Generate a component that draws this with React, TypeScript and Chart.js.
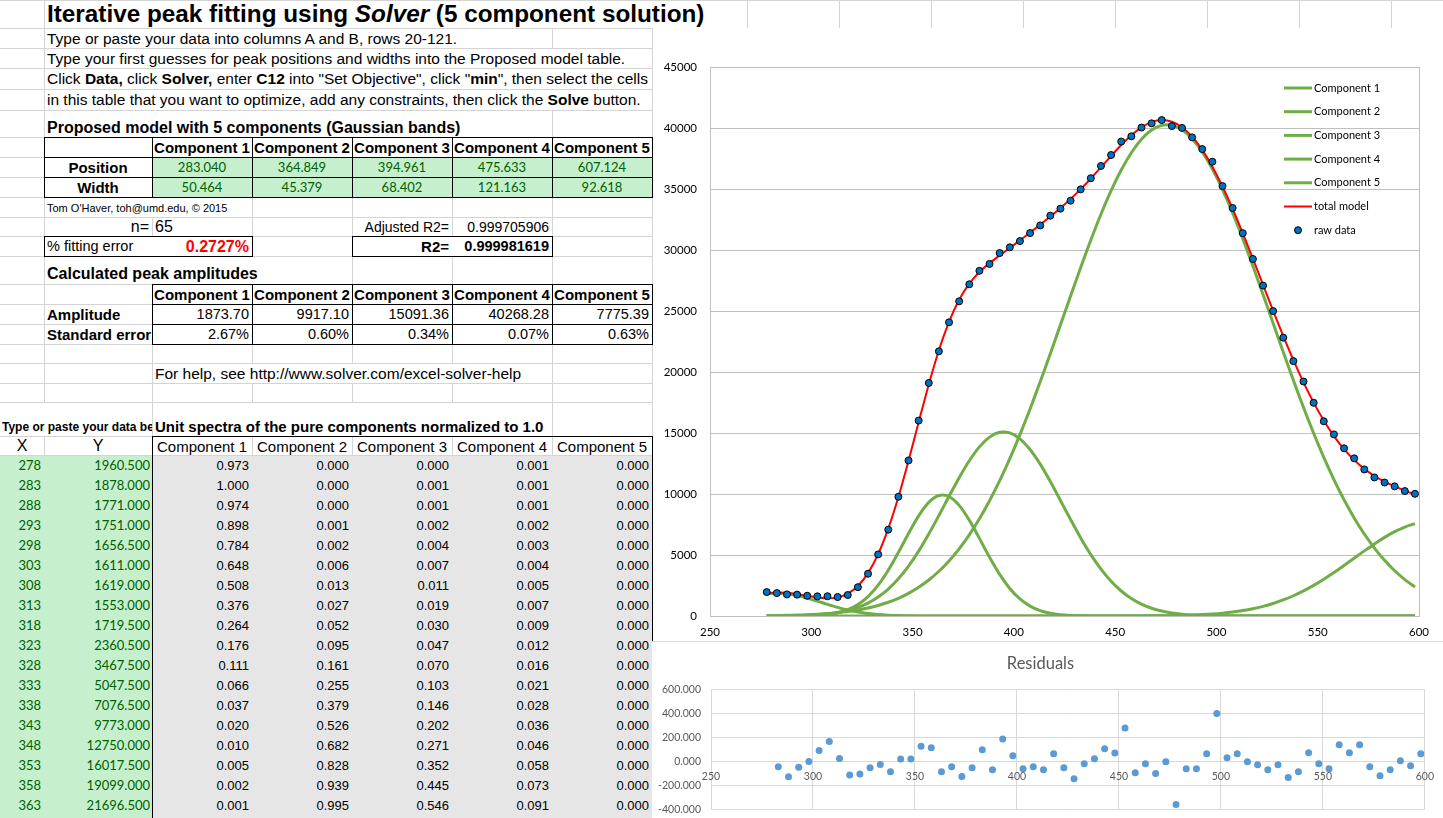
import React, { useEffect, useRef } from "react";
import { Chart, registerables } from "chart.js";

Chart.register(...registerables);

// ---------------- data ----------------
const X_VALUES = [
  278, 283, 288, 293, 298, 303, 308, 313, 318, 323,
  328, 333, 338, 343, 348, 353, 358, 363, 368, 373,
  378, 383, 388, 393, 398, 403, 408, 413, 418, 423,
  428, 433, 438, 443, 448, 453, 458, 463, 468, 473,
  478, 483, 488, 493, 498, 503, 508, 513, 518, 523,
  528, 533, 538, 543, 548, 553, 558, 563, 568, 573,
  578, 583, 588, 593, 598,
];

const RAW_DATA = [
  1960.5, 1878, 1771, 1751, 1656.5, 1611, 1619, 1553, 1719.5, 2360.5,
  3467.5, 5047.5, 7076.5, 9773, 12750, 16017.5, 19099, 21696.5, 24071, 25793,
  27187, 28291, 28859, 29748, 30218, 30732, 31387, 32011, 32810, 33389,
  34043, 34971, 35886, 36888, 37785, 38890, 39319, 40036, 40383, 40648,
  40160, 40007, 39232, 38272, 37235, 35239, 33439, 31382, 29264, 27083,
  24993, 22814, 20893, 19221, 17472, 15961, 14887, 13744, 12921, 12016,
  11360, 10941, 10627, 10243, 10016,
];

const COMPONENT_1 = [
  1823, 1874, 1824, 1682, 1469, 1214, 951, 705, 495, 329,
  207, 124, 70, 37, 19, 9, 4, 2, 1, 0,
  0, 0, 0, 0, 0, 0, 0, 0, 0, 0,
  0, 0, 0, 0, 0, 0, 0, 0, 0, 0,
  0, 0, 0, 0, 0, 0, 0, 0, 0, 0,
  0, 0, 0, 0, 0, 0, 0, 0, 0, 0,
  0, 0, 0, 0, 0,
];

const COMPONENT_2 = [
  0, 1, 3, 9, 24, 58, 128, 266, 516, 938,
  1594, 2531, 3757, 5215, 6767, 8209, 9310, 9872, 9785, 9069,
  7857, 6364, 4819, 3412, 2258, 1398, 809, 437, 221, 104,
  46, 19, 7, 3, 1, 0, 0, 0, 0, 0,
  0, 0, 0, 0, 0, 0, 0, 0, 0, 0,
  0, 0, 0, 0, 0, 0, 0, 0, 0, 0,
  0, 0, 0, 0, 0,
];

const COMPONENT_3 = [
  5, 9, 17, 32, 57, 101, 171, 282, 451, 702,
  1059, 1552, 2207, 3047, 4085, 5317, 6717, 8238, 9810, 11340,
  12726, 13864, 14664, 15057, 15009, 14524, 13645, 12445, 11019, 9471,
  7904, 6402, 5035, 3844, 2849, 2050, 1432, 971, 639, 409,
  254, 153, 89, 51, 28, 15, 8, 4, 2, 1,
  0, 0, 0, 0, 0, 0, 0, 0, 0, 0,
  0, 0, 0, 0, 0,
];

const COMPONENT_4 = [
  25, 36, 52, 74, 104, 145, 200, 273, 369, 494,
  657, 864, 1125, 1452, 1857, 2352, 2951, 3668, 4516, 5508,
  6654, 7964, 9442, 11089, 12901, 14868, 16974, 19195, 21504, 23864,
  26234, 28567, 30818, 32932, 34861, 36555, 37972, 39073, 39828, 40216,
  40226, 39858, 39122, 38039, 36638, 34957, 33040, 30934, 28690, 26359,
  23990, 21629, 19316, 17089, 14977, 13002, 11182, 9526, 8039, 6720,
  5565, 4565, 3710, 2986, 2381,
];

const COMPONENT_5 = [
  0, 0, 0, 0, 0, 0, 0, 0, 0, 0,
  0, 0, 0, 0, 0, 0, 0, 0, 0, 0,
  0, 0, 0, 0, 0, 0, 0, 0, 0, 0,
  0, 0, 1, 1, 2, 4, 6, 9, 15, 23,
  36, 54, 79, 116, 166, 234, 325, 444, 597, 789,
  1028, 1317, 1660, 2058, 2512, 3017, 3564, 4144, 4741, 5337,
  5911, 6442, 6909, 7290, 7569,
];

const TOTAL_MODEL = [
  1853, 1920, 1896, 1797, 1654, 1518, 1450, 1526, 1831, 2463,
  3517, 5071, 7159, 9751, 12728, 15887, 18982, 21780, 24112, 25917,
  27237, 28192, 28925, 29558, 30168, 30790, 31428, 32077, 32744, 33439,
  34184, 34988, 35861, 36780, 37713, 38609, 39410, 40053, 40482, 40648,
  40516, 40065, 39290, 38206, 36832, 35206, 33373, 31382, 29289, 27149,
  25018, 22946, 20976, 19147, 17489, 16019, 14746, 13670, 12780, 12057,
  11476, 11007, 10619, 10276, 9950,
];

// residuals for x = 283 ... 598
const RESIDUALS = [
  -42, -125, -46, 2, 93, 169, 27, -111, -102, -50,
  -24, -83, 22, 22, 130, 117, -83, -41, -124, -50,
  99, -66, 190, 50, -58, -41, -66, 66, -50, -141,
  -17, 25, 108, 72, 281, -91, -17, -99, 0, -356,
  -58, -58, 66, 403, 33, 66, 0, -25, -66, -25,
  -132, -83, 74, -17, -58, 141, 74, 141, -41, -116,
  -66, 8, -33, 66,
];

const COMPONENT_NAMES = ["Component 1", "Component 2", "Component 3", "Component 4", "Component 5"];
const POSITIONS = ["283.040", "364.849", "394.961", "475.633", "607.124"];
const WIDTHS = ["50.464", "45.379", "68.402", "121.163", "92.618"];
const AMPLITUDES = ["1873.70", "9917.10", "15091.36", "40268.28", "7775.39"];
const STD_ERRORS = ["2.67%", "0.60%", "0.34%", "0.07%", "0.63%"];

const UNIT_1 = ["0.973","1.000","0.974","0.898","0.784","0.648","0.508","0.376","0.264","0.176","0.111","0.066","0.037","0.020","0.010","0.005","0.002","0.001"];
const UNIT_2 = ["0.000","0.000","0.000","0.001","0.002","0.006","0.013","0.027","0.052","0.095","0.161","0.255","0.379","0.526","0.682","0.828","0.939","0.995"];
const UNIT_3 = ["0.000","0.001","0.001","0.002","0.004","0.007","0.011","0.019","0.030","0.047","0.070","0.103","0.146","0.202","0.271","0.352","0.445","0.546"];
const UNIT_4 = ["0.001","0.001","0.001","0.002","0.003","0.004","0.005","0.007","0.009","0.012","0.016","0.021","0.028","0.036","0.046","0.058","0.073","0.091"];
const UNIT_5 = ["0.000","0.000","0.000","0.000","0.000","0.000","0.000","0.000","0.000","0.000","0.000","0.000","0.000","0.000","0.000","0.000","0.000","0.000"];

// ---------------- styles ----------------
const GRID = "#d4d4d4";
const SANS = '"Liberation Sans", Arial, Helvetica, sans-serif';
const LATO = 'Lato, "Liberation Sans", sans-serif';
const GREEN_FILL = "#c6efce";
const GREEN_TEXT = "#006100";
const GRAY_FILL = "#e7e6e6";
const COMP_GREEN = "#70AD47";

const COL = [0, 44, 152, 252, 352, 452, 552, 652];
const ROWS = [0, 28, 48, 68, 89, 110, 137, 157, 177, 197, 217, 236, 256, 284, 304, 324, 344, 363, 383, 402, 436, 455];
const DATA_TOP = 455;
const DATA_ROW_H = 20;

function hl(key: string, x1: number, x2: number, y: number, color = GRID) {
  return <div key={key} style={{ position: "absolute", left: x1, top: y, width: x2 - x1 + 1, height: 1, background: color }} />;
}
function vl(key: string, x: number, y1: number, y2: number, color = GRID) {
  return <div key={key} style={{ position: "absolute", left: x, top: y1, width: 1, height: y2 - y1 + 1, background: color }} />;
}
function rect(key: string, x: number, y: number, w: number, h: number, color: string) {
  return <div key={key} style={{ position: "absolute", left: x, top: y, width: w, height: h, background: color }} />;
}

type CellProps = {
  x: number; y: number; w: number; h: number;
  align?: "left" | "right" | "center";
  children?: React.ReactNode;
  style?: React.CSSProperties;
  clip?: boolean;
};
function Cell({ x, y, w, h, align = "left", children, style, clip }: CellProps) {
  return (
    <div
      style={{
        position: "absolute", left: x, top: y, width: w, height: h,
        display: "flex", alignItems: "center",
        justifyContent: align === "left" ? "flex-start" : align === "right" ? "flex-end" : "center",
        padding: "0 3px", boxSizing: "border-box", whiteSpace: "nowrap",
        overflow: clip ? "hidden" : "visible",
        fontFamily: SANS, fontSize: 14, color: "#000", lineHeight: 1,
        ...style,
      }}
    >
      {children}
    </div>
  );
}

// ---------------- charts ----------------
const COMPONENTS = [COMPONENT_1, COMPONENT_2, COMPONENT_3, COMPONENT_4, COMPONENT_5];

const insideLegend = {
  id: "insideLegend",
  afterDatasetsDraw(chart: any) {
    const ctx = chart.ctx;
    const x0 = 631, x1 = 659, tx = 661, y0 = 60, dy = 23.7;
    ctx.save();
    ctx.font = "11px Lato";
    ctx.textBaseline = "middle";
    chart.data.datasets.forEach((ds: any, i: number) => {
      const y = y0 + i * dy;
      if (ds.showLine) {
        ctx.strokeStyle = ds.borderColor;
        ctx.lineWidth = ds.borderWidth;
        ctx.beginPath();
        ctx.moveTo(x0, y);
        ctx.lineTo(x1, y);
        ctx.stroke();
      } else {
        ctx.fillStyle = ds.pointBackgroundColor;
        ctx.strokeStyle = ds.pointBorderColor;
        ctx.lineWidth = 1;
        ctx.beginPath();
        ctx.arc((x0 + x1) / 2, y, 3.5, 0, Math.PI * 2);
        ctx.fill();
        ctx.stroke();
      }
      ctx.fillStyle = "#000";
      ctx.fillText(ds.label, tx, y);
    });
    ctx.restore();
  },
};

const plotBorder = {
  id: "plotBorder",
  beforeDatasetsDraw(chart: any) {
    const { ctx, chartArea: a } = chart;
    ctx.save();
    ctx.strokeStyle = "#bfbfbf";
    ctx.lineWidth = 1;
    ctx.strokeRect(Math.round(a.left) + 0.5, Math.round(a.top) + 0.5, Math.round(a.right - a.left), Math.round(a.bottom - a.top));
    ctx.restore();
  },
};

function MainChart() {
  const ref = useRef<HTMLCanvasElement>(null);
  useEffect(() => {
    const tickFont = { family: "Lato", size: 11.5 };
    const chart = new Chart(ref.current as HTMLCanvasElement, {
      type: "scatter",
      data: {
        datasets: [
          ...COMPONENTS.map((arr, i) => ({
            label: COMPONENT_NAMES[i],
            data: X_VALUES.map((x, j) => ({ x, y: arr[j] })),
            showLine: true,
            borderColor: COMP_GREEN,
            backgroundColor: COMP_GREEN,
            borderWidth: 3,
            pointRadius: 0,
            tension: 0.3,
            order: 2 + i,
          })),
          {
            label: "total model",
            data: X_VALUES.map((x, j) => ({ x, y: TOTAL_MODEL[j] })),
            showLine: true,
            borderColor: "#FF0000",
            backgroundColor: "#FF0000",
            borderWidth: 2,
            pointRadius: 0,
            tension: 0.3,
            order: 1,
          },
          {
            label: "raw data",
            data: X_VALUES.map((x, j) => ({ x, y: RAW_DATA[j] })),
            showLine: false,
            pointRadius: 3.5,
            pointBackgroundColor: "#0070C0",
            pointBorderColor: "#000000",
            pointBorderWidth: 1,
            order: 0,
          },
        ],
      } as any,
      options: {
        animation: false,
        responsive: false,
        maintainAspectRatio: false,
        layout: { padding: { top: 39, right: 24, left: 0, bottom: 0 } },
        plugins: { legend: { display: false }, tooltip: { enabled: false }, title: { display: false } },
        scales: {
          x: {
            type: "linear", min: 250, max: 600,
            ticks: { stepSize: 50, font: tickFont, color: "#000", padding: 9, callback: (v: any) => String(v) },
            grid: { display: false, drawTicks: false },
            border: { display: true, color: "#bfbfbf" },
            afterFit: (s: any) => { s.height = 25; },
          },
          y: {
            min: 0, max: 45000,
            ticks: { stepSize: 5000, font: tickFont, color: "#000", padding: 13, callback: (v: any) => String(v) },
            grid: { color: "#bfbfbf", drawTicks: false },
            border: { display: true, color: "#bfbfbf" },
            afterFit: (s: any) => { s.width = 57; },
          },
        },
      } as any,
      plugins: [plotBorder, insideLegend],
    });
    return () => chart.destroy();
  }, []);
  return (
    <canvas
      ref={ref}
      width={790}
      height={613}
      style={{ position: "absolute", left: 653, top: 28, width: 790, height: 613, background: "#fff" }}
    />
  );
}

function ResidualChart() {
  const ref = useRef<HTMLCanvasElement>(null);
  useEffect(() => {
    const tickFont = { family: "Lato", size: 10.5 };
    const chart = new Chart(ref.current as HTMLCanvasElement, {
      type: "scatter",
      data: {
        datasets: [
          {
            label: "Residuals",
            data: X_VALUES.slice(1).map((x, j) => ({ x, y: RESIDUALS[j] })),
            showLine: false,
            pointRadius: 3.5,
            pointBackgroundColor: "#5B9BD5",
            pointBorderWidth: 0,
          },
        ],
      } as any,
      options: {
        animation: false,
        responsive: false,
        maintainAspectRatio: false,
        layout: { padding: { top: 0, right: 15, left: 0, bottom: 0 } },
        plugins: {
          legend: { display: false },
          tooltip: { enabled: false },
          title: {
            display: true, text: "Residuals", color: "#595959",
            font: { family: "Lato", size: 16.5, weight: "normal" },
            padding: { top: 12, bottom: 16 },
          },
        },
        scales: {
          x: {
            type: "linear", min: 250, max: 600, position: { y: 0 },
            ticks: { stepSize: 50, font: tickFont, color: "#595959", padding: 9, callback: (v: any) => String(v) },
            grid: { color: "#d9d9d9", drawTicks: false },
            border: { display: true, color: "#d9d9d9" },
          },
          y: {
            min: -400, max: 600,
            ticks: { stepSize: 200, font: tickFont, color: "#595959", padding: 10, callback: (v: any) => Number(v).toFixed(3) },
            grid: { color: "#d9d9d9", drawTicks: false },
            border: { display: false },
            afterFit: (s: any) => { s.width = 58; },
          },
        },
      } as any,
    });
    return () => chart.destroy();
  }, []);
  return (
    <canvas
      ref={ref}
      width={790}
      height={184}
      style={{ position: "absolute", left: 653, top: 642, width: 790, height: 184, background: "#fff" }}
    />
  );
}

// ---------------- sheet ----------------
function Sheet() {
  const els: React.ReactNode[] = [];
  // fills
  els.push(rect("gf1", 153, 158, 499, 39, GREEN_FILL));
  els.push(rect("gfd", 0, DATA_TOP + 1, 152, 818 - DATA_TOP, GREEN_FILL));
  els.push(rect("grd", 153, DATA_TOP + 1, 499, 818 - DATA_TOP, GRAY_FILL));

  // gray horizontal gridlines
  ROWS.forEach((y, i) => els.push(hl("h" + i, 0, y === 0 ? 1443 : 652, y)));

  // gray vertical gridlines
  const vSegs: [number, number, number][] = [
    [44, 0, 402], [44, 436, 455],
    [152, 217, 236], [152, 344, 436],
    [252, 197, 236], [252, 344, 363], [252, 383, 402], [252, 436, 455],
    [352, 197, 236], [352, 256, 284], [352, 344, 363], [352, 383, 402], [352, 436, 455],
    [452, 197, 236], [452, 256, 284], [452, 344, 363], [452, 383, 402], [452, 436, 455],
    [552, 28, 48], [552, 110, 137], [552, 197, 236], [552, 256, 284], [552, 344, 455],
    [652, 28, 137], [652, 197, 284], [652, 344, 436],
    [747, 0, 28], [839, 0, 28], [931, 0, 28], [1023, 0, 28], [1115, 0, 28], [1207, 0, 28], [1299, 0, 28], [1391, 0, 28],
  ];
  vSegs.forEach(([x, a, b], i) => els.push(vl("v" + i, x, a, b)));

  // black borders
  const B = "#000";
  [137, 157, 177, 197].forEach((y, i) => els.push(hl("bt1" + i, 44, 652, y, B)));
  COL.slice(1).forEach((x, i) => els.push(vl("bv1" + i, x, 137, 197, B)));
  [236, 256].forEach((y, i) => {
    els.push(hl("bb1" + i, 44, 252, y, B));
    els.push(hl("bb2" + i, 352, 552, y, B));
  });
  [44, 252, 352, 552].forEach((x, i) => els.push(vl("bbv" + i, x, 236, 256, B)));
  [284, 304, 324, 344].forEach((y, i) => els.push(hl("bt2" + i, 152, 652, y, B)));
  COL.slice(2).forEach((x, i) => els.push(vl("bv2" + i, x, 284, 344, B)));
  els.push(hl("bd1", 152, 652, 436, B));
  els.push(vl("bd2", 152, 436, 818, B));
  els.push(vl("bd3", 652, 436, 641, B));

  return <>{els}</>;
}

function SheetText() {
  const bold: React.CSSProperties = { fontWeight: "bold" };
  const ins: React.CSSProperties = { fontSize: 15.5 };
  const cells: React.ReactNode[] = [];

  // title
  cells.push(
    <Cell key="title" x={44} y={1} w={700} h={27} style={{ fontSize: 24.3, fontWeight: "bold" }}>
      Iterative peak fitting using&nbsp;<i>Solver</i>&nbsp;(5 component solution)
    </Cell>
  );
  cells.push(<Cell key="i1" x={44} y={29} w={600} h={19} style={ins}>Type or paste your data into columns A and B, rows 20-121.</Cell>);
  cells.push(<Cell key="i2" x={44} y={49} w={600} h={19} style={ins}>Type your first guesses for peak positions and widths into the Proposed model table.</Cell>);
  cells.push(
    <Cell key="i3" x={44} y={69} w={600} h={20} style={ins}>
      Click&nbsp;<b>Data,</b>&nbsp;click&nbsp;<b>Solver,</b>&nbsp;enter&nbsp;<b>C12</b>&nbsp;into "Set Objective", click "<b>min</b>", then select the cells
    </Cell>
  );
  cells.push(
    <Cell key="i4" x={44} y={90} w={600} h={20} style={ins}>
      in this table that you want to optimize, add any constraints, then click the&nbsp;<b>Solve</b>&nbsp;button.
    </Cell>
  );
  cells.push(<Cell key="pm" x={44} y={116} w={500} h={23} style={{ fontSize: 16, fontWeight: "bold" }}>Proposed model with 5 components (Gaussian bands)</Cell>);

  COMPONENT_NAMES.forEach((n, i) => {
    cells.push(<Cell key={"h1" + i} x={COL[i + 2]} y={138} w={100} h={19} align="center" style={{ ...bold, fontSize: 15 }}>{n}</Cell>);
    cells.push(<Cell key={"p" + i} x={COL[i + 2]} y={158} w={100} h={19} align="center" style={{ fontFamily: LATO, fontSize: 13, color: GREEN_TEXT }}>{POSITIONS[i]}</Cell>);
    cells.push(<Cell key={"w" + i} x={COL[i + 2]} y={178} w={100} h={19} align="center" style={{ fontFamily: LATO, fontSize: 13, color: GREEN_TEXT }}>{WIDTHS[i]}</Cell>);
    cells.push(<Cell key={"h2" + i} x={COL[i + 2]} y={285} w={100} h={19} align="center" style={{ ...bold, fontSize: 15 }}>{n}</Cell>);
    cells.push(<Cell key={"a" + i} x={COL[i + 2]} y={305} w={100} h={19} align="right" style={{ fontSize: 14.5 }}>{AMPLITUDES[i]}</Cell>);
    cells.push(<Cell key={"s" + i} x={COL[i + 2]} y={325} w={100} h={19} align="right" style={{ fontSize: 14.5 }}>{STD_ERRORS[i]}</Cell>);
  });
  cells.push(<Cell key="pos" x={44} y={158} w={108} h={19} align="center" style={{ ...bold, fontSize: 15 }}>Position</Cell>);
  cells.push(<Cell key="wid" x={44} y={178} w={108} h={19} align="center" style={{ ...bold, fontSize: 15 }}>Width</Cell>);

  cells.push(<Cell key="tom" x={44} y={199} w={300} h={19} style={{ fontSize: 11 }}>Tom O'Haver, toh@umd.edu, © 2015</Cell>);
  cells.push(<Cell key="n" x={44} y={218} w={108} h={18} align="right" style={{ fontSize: 16 }}>n=</Cell>);
  cells.push(<Cell key="n65" x={152} y={218} w={100} h={18} style={{ fontSize: 16 }}>65</Cell>);
  cells.push(<Cell key="adj" x={352} y={218} w={100} h={18} align="right" style={{ fontSize: 14 }}>Adjusted R2=</Cell>);
  cells.push(<Cell key="adjv" x={452} y={218} w={100} h={18} align="right" style={{ fontSize: 14 }}>0.999705906</Cell>);
  cells.push(<Cell key="fe" x={44} y={237} w={108} h={19} style={{ fontSize: 14.5 }}>% fitting error</Cell>);
  cells.push(<Cell key="fev" x={152} y={237} w={100} h={19} align="right" style={{ fontSize: 16, fontWeight: "bold", color: "#ff0000" }}>0.2727%</Cell>);
  cells.push(<Cell key="r2" x={352} y={237} w={100} h={19} align="right" style={{ fontSize: 15, fontWeight: "bold" }}>R2=</Cell>);
  cells.push(<Cell key="r2v" x={452} y={237} w={100} h={19} align="right" style={{ fontSize: 14.5, fontWeight: "bold" }}>0.999981619</Cell>);

  cells.push(<Cell key="cpa" x={44} y={262} w={300} h={23} style={{ fontSize: 16, fontWeight: "bold" }}>Calculated peak amplitudes</Cell>);
  cells.push(<Cell key="amp" x={44} y={305} w={108} h={19} style={{ ...bold, fontSize: 15 }}>Amplitude</Cell>);
  cells.push(<Cell key="se" x={44} y={325} w={108} h={19} style={{ ...bold, fontSize: 15 }}>Standard error</Cell>);
  cells.push(<Cell key="help" x={152} y={364} w={400} h={19} style={{ fontSize: 15.5 }}>For help, see http://www.solver.com/excel-solver-help</Cell>);

  cells.push(<Cell key="tp" x={0} y={418} w={152} h={18} clip style={{ fontSize: 12, fontWeight: "bold", paddingLeft: 2, paddingRight: 0 }}>Type or paste your data below</Cell>);
  cells.push(<Cell key="us" x={152} y={416} w={450} h={20} style={{ fontSize: 15, fontWeight: "bold" }}>Unit spectra of the pure components normalized to 1.0</Cell>);

  cells.push(<Cell key="hx" x={0} y={437} w={44} h={18} align="center" style={{ fontSize: 16 }}>X</Cell>);
  cells.push(<Cell key="hy" x={44} y={437} w={108} h={18} align="center" style={{ fontSize: 16 }}>Y</Cell>);
  COMPONENT_NAMES.forEach((n, i) =>
    cells.push(<Cell key={"h3" + i} x={COL[i + 2]} y={437} w={100} h={18} align="center" style={{ fontSize: 15 }}>{n}</Cell>)
  );

  const units = [UNIT_1, UNIT_2, UNIT_3, UNIT_4, UNIT_5];
  UNIT_1.forEach((_, r) => {
    const y = DATA_TOP + r * DATA_ROW_H + 1;
    cells.push(<Cell key={"dx" + r} x={0} y={y} w={44} h={19} align="right" style={{ fontFamily: LATO, fontSize: 13, color: GREEN_TEXT }}>{X_VALUES[r]}</Cell>);
    cells.push(<Cell key={"dy" + r} x={44} y={y} w={108} h={19} align="right" style={{ fontFamily: LATO, fontSize: 13, color: GREEN_TEXT, paddingRight: 2 }}>{RAW_DATA[r].toFixed(3)}</Cell>);
    units.forEach((u, c) =>
      cells.push(<Cell key={"u" + r + "_" + c} x={COL[c + 2]} y={y} w={100} h={19} align="right" style={{ fontSize: 13 }}>{u[r]}</Cell>)
    );
  });

  return <>{cells}</>;
}

export default function App() {
  return (
    <div
      style={{
        position: "fixed", left: 0, top: 0, width: 1443, height: 818,
        overflow: "hidden", background: "#fff", fontFamily: SANS,
      }}
    >
      <Sheet />
      <SheetText />
      <MainChart />
      <div style={{ position: "absolute", left: 652, top: 641, width: 791, height: 1, background: "#d9d9d9" }} />
      <ResidualChart />
    </div>
  );
}
